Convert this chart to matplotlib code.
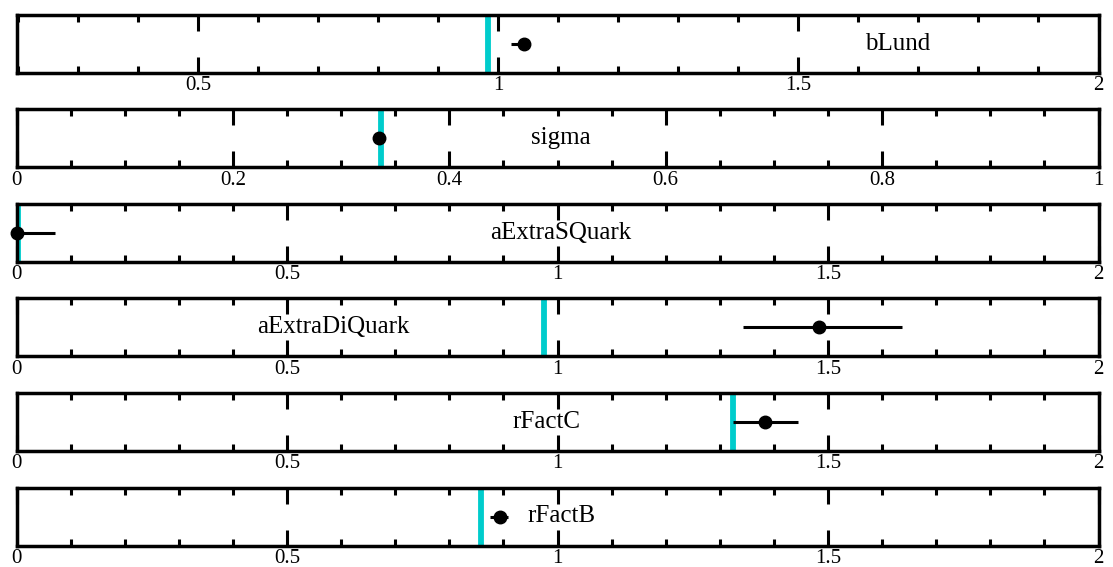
import matplotlib
matplotlib.use("Agg")
import matplotlib.pyplot as plt
from matplotlib.ticker import MultipleLocator, FuncFormatter

plt.rcParams['font.family'] = ['Liberation Serif', 'DejaVu Serif']

# ---- data ----
names = ['bLund', 'sigma', 'aExtraSQuark', 'aExtraDiQuark', 'rFactC', 'rFactB']
x_min = [0.197, 0.0, 0.0, 0.0, 0.0, 0.0]
x_max = [2.0, 1.0, 2.0, 2.0, 2.0, 2.0]
major_step = [0.5, 0.2, 0.5, 0.5, 0.5, 0.5]
minor_step = [0.1, 0.05, 0.1, 0.1, 0.1, 0.1]
reference = [0.983, 0.337, 0.003, 0.975, 1.3245, 0.859]
fitted = [1.042, 0.335, 0.0, 1.483, 1.384, 0.893]
err_low = [0.021, 0.004, 0.0, 0.140, 0.060, 0.017]
err_high = [0.008, 0.004, 0.072, 0.153, 0.061, 0.015]
label_xfrac = [0.814, 0.503, 0.503, 0.293, 0.49, 0.504]

W, H = 1113, 567
fig = plt.figure(figsize=(W / 100, H / 100), dpi=100)

left_px, width_px = 16.5, 1082
top0, step_px, height_px = 14.5, 94.6, 58

def fmt(v, pos):
    s = ('%.2f' % v).rstrip('0').rstrip('.')
    return '0' if s in ('-0', '') else s

for i, name in enumerate(names):
    top = top0 + step_px * i
    ax = fig.add_axes([left_px / W, 1 - (top + height_px) / H, width_px / W, height_px / H])
    ax.set_xlim(x_min[i], x_max[i])
    ax.set_ylim(0, 1)
    ax.set_yticks([])
    for sp in ax.spines.values():
        sp.set_linewidth(2.5)
    ax.xaxis.set_major_locator(MultipleLocator(major_step[i]))
    ax.xaxis.set_minor_locator(MultipleLocator(minor_step[i]))
    ax.xaxis.set_major_formatter(FuncFormatter(fmt))
    ax.tick_params(axis='x', which='both', direction='in', top=True, bottom=True,
                   width=2.2, labelsize=15, pad=2.5)
    ax.tick_params(axis='x', which='major', length=11.5)
    ax.tick_params(axis='x', which='minor', length=5)
    ax.axvline(reference[i], color='#00CCCC', lw=4.2, zorder=2)
    ax.errorbar([fitted[i]], [0.5], xerr=[[err_low[i]], [err_high[i]]], fmt='o',
                color='black', ms=9, elinewidth=2.2, capsize=0, zorder=3, clip_on=False)
    ax.text(label_xfrac[i], 0.5, name, transform=ax.transAxes, ha='center', va='center',
            fontsize=18)

fig.savefig('out.png', dpi=100)
